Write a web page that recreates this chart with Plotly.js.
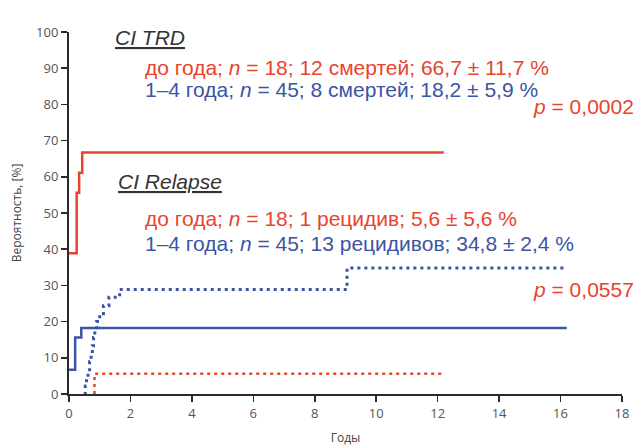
<!DOCTYPE html>
<html>
<head>
<meta charset="utf-8">
<script src="https://cdn.plot.ly/plotly-3.0.1.min.js"></script>
<style>html,body{margin:0;padding:0;background:#fff;}#chart{width:638px;height:446px;}</style>
</head>
<body>
<div id="chart"></div>
<script>
// TRD (transplant-related death), age < 1 year
const trdUnder1X = [0, 0.25, 0.25, 0.33, 0.43, 12.2];
const trdUnder1Y = [38.9, 50.0, 55.6, 61.1, 66.7, 66.7];
// TRD, 1–4 years
const trd1to4X = [0, 0.2, 0.4, 16.2];
const trd1to4Y = [6.7, 15.6, 18.2, 18.2];
// Relapse, age < 1 year
const relUnder1X = [0.83, 0.83, 12.2];
const relUnder1Y = [0, 5.6, 5.6];
// Relapse, 1–4 years
const rel1to4X = [0.5, 0.53, 0.57, 0.62, 0.67, 0.72, 0.76, 0.8, 0.84, 0.9, 1.0, 1.12, 1.3, 1.65, 9.05, 16.2];
const rel1to4Y = [0, 2.2, 4.4, 6.7, 8.9, 11.1, 13.3, 15.6, 17.8, 20.0, 22.2, 24.4, 26.7, 28.9, 34.8, 34.8];

const xTicks = [0, 2, 4, 6, 8, 10, 12, 14, 16, 18];
const yTicks = [0, 10, 20, 30, 40, 50, 60, 70, 80, 90, 100];

const RED = '#e8432f';
const BLUE = '#3b54a3';

const traces = [
  {x: trdUnder1X, y: trdUnder1Y, mode: 'lines', line: {color: RED, width: 2.5, shape: 'hv'}, name: 'TRD до года'},
  {x: trd1to4X, y: trd1to4Y, mode: 'lines', line: {color: BLUE, width: 2.5, shape: 'hv'}, name: 'TRD 1–4 года'},
  {x: relUnder1X, y: relUnder1Y, mode: 'lines', line: {color: RED, width: 2.5, shape: 'hv', dash: '3px,4px'}, name: 'Relapse до года'},
  {x: rel1to4X, y: rel1to4Y, mode: 'lines', line: {color: BLUE, width: 3, shape: 'hv', dash: '3px,4px'}, name: 'Relapse 1–4 года'}
];

const FAM = '"Liberation Sans", Arial, sans-serif';
const ann = (text, x, y, color, xanchor, size) => ({
  text: text, xref: 'paper', yref: 'paper', x: x, y: y, xanchor: xanchor || 'left', yanchor: 'middle',
  showarrow: false, font: {family: FAM, size: size || 21, color: color}
});

const layout = {
  width: 638, height: 446,
  margin: {l: 69, r: 16, t: 32, b: 52},
  paper_bgcolor: '#fff', plot_bgcolor: '#fff',
  showlegend: false,
  xaxis: {
    range: [0, 18], tickvals: xTicks, showgrid: false, zeroline: false,
    showline: true, linecolor: '#2a2a2a', linewidth: 2, ticks: 'outside', ticklen: 6, tickwidth: 1.5, tickcolor: '#2a2a2a',
    tickfont: {family: '"Open Sans", sans-serif', size: 13, color: '#555'},
    title: {text: 'Годы', font: {family: '"Open Sans", sans-serif', size: 12, color: '#444'}, standoff: 13}
  },
  yaxis: {
    range: [0, 100], tickvals: yTicks, showgrid: false, zeroline: false,
    showline: true, linecolor: '#2a2a2a', linewidth: 2, ticks: 'outside', ticklen: 6, tickwidth: 1.5, tickcolor: '#2a2a2a',
    tickfont: {family: '"Open Sans", sans-serif', size: 13, color: '#555'},
    title: {text: 'Вероятность, [%]', font: {family: '"Open Sans", sans-serif', size: 12, color: '#444'}, standoff: 12}
  },
  annotations: [
    ann('<u><i>CI TRD</i></u>', 0.0796, 0.986, '#333', 'left', 21),
    ann('до года; <i>n</i> = 18; 12 смертей; 66,7 ± 11,7 %', 0.134, 0.903, RED),
    ann('1–4 года; <i>n</i> = 45; 8 смертей; 18,2 ± 5,9 %', 0.134, 0.840, BLUE),
    ann('<i>p</i> = 0,0002', 1.0253, 0.793, RED, 'right'),
    ann('<u><i>CI Relapse</i></u>', 0.085, 0.588, '#333', 'left', 21),
    ann('до года; <i>n</i> = 18; 1 рецидив; 5,6 ± 5,6 %', 0.134, 0.486, RED),
    ann('1–4 года; <i>n</i> = 45; 13 рецидивов; 34,8 ± 2,4 %', 0.134, 0.417, BLUE),
    ann('<i>p</i> = 0,0557', 1.0253, 0.290, RED, 'right')
  ]
};

Plotly.newPlot('chart', traces, layout, {staticPlot: true, displayModeBar: false});
</script>
</body>
</html>
